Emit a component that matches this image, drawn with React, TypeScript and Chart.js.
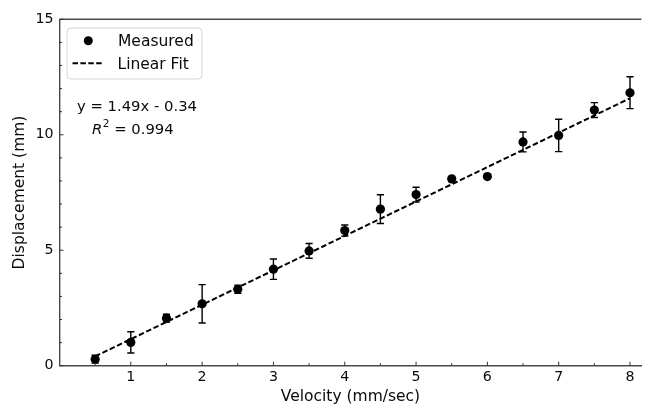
import React, { useEffect, useRef } from "react";
import { Chart, registerables } from "chart.js";

Chart.register(...registerables);

// ---- data ----
const velocity = [0.5, 1, 1.5, 2, 2.5, 3, 3.5, 4, 4.5, 5, 5.5, 6, 6.5, 7, 7.5, 8];
const displacement = [0.28, 1.01, 2.06, 2.68, 3.31, 4.18, 4.97, 5.85, 6.78, 7.41, 8.09, 8.19, 9.69, 9.97, 11.07, 11.82];
const displacementErr = [0.17, 0.46, 0.17, 0.83, 0.18, 0.44, 0.32, 0.24, 0.62, 0.32, 0.06, 0.05, 0.43, 0.7, 0.32, 0.69];
const fitVelocity = [0.5, 8];
const fitDisplacement = [0.405, 11.58];
const xTickValues = [1, 2, 3, 4, 5, 6, 7, 8];
const xMinorTicks = [0.5, 1.5, 2.5, 3.5, 4.5, 5.5, 6.5, 7.5];
const yTickValues = [0, 5, 10, 15];
const yMinorTicks = [1, 2, 3, 4, 6, 7, 8, 9, 11, 12, 13, 14];
const seriesLabels = ["Measured", "Linear Fit"];
const axisTitles = ["Velocity (mm/sec)", "Displacement (mm)"];
const fitEquation = "y = 1.49x - 0.34";
const fitR2 = "0.994";

const FONT = '"DejaVu Sans", Verdana, sans-serif';
const INK = "#0a0a0a";
const SPINE = "#4a4a4a";

const errorBarsPlugin = {
  id: "errorBars",
  beforeDatasetsDraw(chart: any) {
    const { ctx } = chart;
    const x = chart.scales.x;
    const y = chart.scales.y;
    ctx.save();
    ctx.strokeStyle = "#000";
    ctx.lineWidth = 1.4;
    velocity.forEach((v, i) => {
      const px = x.getPixelForValue(v);
      const top = y.getPixelForValue(displacement[i] + displacementErr[i]);
      const bot = y.getPixelForValue(displacement[i] - displacementErr[i]);
      ctx.beginPath();
      ctx.moveTo(px, top);
      ctx.lineTo(px, bot);
      ctx.moveTo(px - 3.6, top);
      ctx.lineTo(px + 3.6, top);
      ctx.moveTo(px - 3.6, bot);
      ctx.lineTo(px + 3.6, bot);
      ctx.stroke();
    });
    ctx.restore();
  },
};

const framePlugin = {
  id: "frame",
  afterDraw(chart: any) {
    const { ctx, chartArea } = chart;
    const x = chart.scales.x;
    const y = chart.scales.y;
    ctx.save();
    ctx.strokeStyle = SPINE;
    ctx.lineWidth = 1.4;
    ctx.beginPath();
    ctx.moveTo(chartArea.left, chartArea.top);
    ctx.lineTo(chartArea.right, chartArea.top);
    ctx.stroke();
    ctx.lineWidth = 1;
    ctx.strokeStyle = "#333";
    const tick = (px: number, py: number, dx: number, dy: number) => {
      ctx.beginPath();
      ctx.moveTo(px, py);
      ctx.lineTo(px + dx, py + dy);
      ctx.stroke();
    };
    xTickValues.forEach((v) => tick(x.getPixelForValue(v), chartArea.bottom, 0, -4));
    xMinorTicks.forEach((v) => tick(x.getPixelForValue(v), chartArea.bottom, 0, -2.5));
    yTickValues.forEach((v) => tick(chartArea.left, y.getPixelForValue(v), 4, 0));
    yMinorTicks.forEach((v) => tick(chartArea.left, y.getPixelForValue(v), 2.5, 0));
    ctx.restore();
  },
};

const legendPlugin = {
  id: "customLegend",
  afterDraw(chart: any) {
    const { ctx } = chart;
    ctx.save();
    const bx = 67, by = 28, bw = 135, bh = 51, r = 4;
    ctx.beginPath();
    ctx.moveTo(bx + r, by);
    ctx.arcTo(bx + bw, by, bx + bw, by + bh, r);
    ctx.arcTo(bx + bw, by + bh, bx, by + bh, r);
    ctx.arcTo(bx, by + bh, bx, by, r);
    ctx.arcTo(bx, by, bx + bw, by, r);
    ctx.closePath();
    ctx.fillStyle = "rgba(255,255,255,0.85)";
    ctx.fill();
    ctx.strokeStyle = "#d4d4d4";
    ctx.lineWidth = 1;
    ctx.stroke();
    ctx.fillStyle = "#000";
    ctx.beginPath();
    ctx.arc(88.3, 40.7, 4.5, 0, Math.PI * 2);
    ctx.fill();
    ctx.strokeStyle = "#000";
    ctx.lineWidth = 1.9;
    ctx.setLineDash([5.5, 2.4]);
    ctx.beginPath();
    ctx.moveTo(72.5, 63.3);
    ctx.lineTo(103, 63.3);
    ctx.stroke();
    ctx.setLineDash([]);
    ctx.fillStyle = INK;
    ctx.font = `15.5px ${FONT}`;
    ctx.textAlign = "left";
    ctx.textBaseline = "alphabetic";
    ctx.fillText(seriesLabels[0], 118, 46.4);
    ctx.fillText(seriesLabels[1], 117.5, 69.4);

    ctx.font = `14.8px ${FONT}`;
    ctx.fillText(fitEquation, 77, 111.3);
    ctx.font = `italic 14.8px ${FONT}`;
    let cx = 92;
    ctx.fillText("R", cx, 133.5);
    cx += ctx.measureText("R").width + 0.5;
    ctx.font = `10.5px ${FONT}`;
    ctx.fillText("2", cx, 127);
    cx += ctx.measureText("2").width;
    ctx.font = `14.8px ${FONT}`;
    ctx.fillText(" = " + fitR2, cx, 133.5);
    ctx.restore();
  },
};

export default function App() {
  const ref = useRef<HTMLCanvasElement>(null);
  useEffect(() => {
    const canvas = ref.current!;
    const chart = new Chart(canvas, {
      type: "scatter",
      data: {
        datasets: [
          {
            type: "line",
            label: seriesLabels[1],
            data: fitVelocity.map((v, i) => ({ x: v, y: fitDisplacement[i] })),
            borderColor: "#000",
            borderWidth: 2,
            borderDash: [5.5, 2.6],
            pointRadius: 0,
            fill: false,
            order: 0,
          } as any,
          {
            type: "scatter",
            label: seriesLabels[0],
            data: velocity.map((v, i) => ({ x: v, y: displacement[i] })),
            backgroundColor: "#000",
            borderColor: "#000",
            pointRadius: 4.6,
            pointBorderWidth: 0,
            order: 1,
          } as any,
        ],
      },
      options: {
        animation: false,
        responsive: false,
        devicePixelRatio: 1,
        layout: { padding: { top: 19.3, left: 0, right: 0, bottom: 0 } },
        plugins: {
          legend: { display: false },
          tooltip: { enabled: false },
        },
        scales: {
          x: {
            type: "linear",
            min: 0,
            max: 8.16,
            afterBuildTicks: (s: any) => {
              s.ticks = xTickValues.map((value) => ({ value }));
            },
            afterFit: (s: any) => {
              s.height = 41.3;
            },
            grid: { display: false, drawTicks: false },
            border: { display: true, color: SPINE, width: 1.4 },
            ticks: {
              color: INK,
              font: { family: FONT, size: 14.2 },
              padding: 3,
              autoSkip: false,
              maxRotation: 0,
              callback: (v: any) => String(v),
            },
            title: {
              display: true,
              text: axisTitles[0],
              color: INK,
              font: { family: FONT, size: 15.5, lineHeight: 1.2 },
              padding: { top: 0, bottom: 0.7 },
            },
          },
          y: {
            type: "linear",
            min: 0,
            max: 15,
            afterBuildTicks: (s: any) => {
              s.ticks = yTickValues.map((value) => ({ value }));
            },
            afterFit: (s: any) => {
              s.width = 59.5;
            },
            grid: { display: false, drawTicks: false },
            border: { display: true, color: SPINE, width: 1.4 },
            ticks: {
              color: INK,
              font: { family: FONT, size: 14.2 },
              padding: 6,
              autoSkip: false,
              callback: (v: any) => String(v),
            },
            title: {
              display: true,
              text: axisTitles[1],
              color: INK,
              font: { family: FONT, size: 15.5, lineHeight: 1.2 },
              padding: { top: 10.2, bottom: 0 },
            },
          },
        },
      } as any,
      plugins: [errorBarsPlugin, framePlugin, legendPlugin],
    });
    return () => chart.destroy();
  }, []);
  return (
    <div style={{ position: "fixed", left: 0, top: 0, width: 646, height: 407, background: "#fff" }}>
      <canvas ref={ref} width={646} height={407} style={{ display: "block" }} />
    </div>
  );
}
